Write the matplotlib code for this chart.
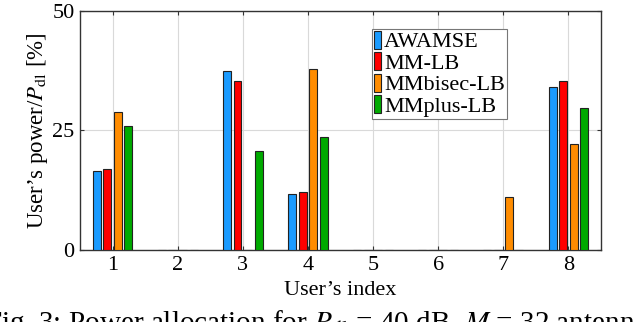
import numpy as np
import matplotlib
matplotlib.use('Agg')
import matplotlib.pyplot as plt

plt.rcParams['font.family'] = 'Liberation Serif'
plt.rcParams['mathtext.fontset'] = 'stix'

# user index and power share per method [%]
users = [1, 2, 3, 4, 5, 6, 7, 8]
awamse = [16.5, 0, 37.4, 11.8, 0, 0, 0, 34.1]
mm_lb = [17.0, 0, 35.2, 12.2, 0, 0, 0, 35.3]
mmbisec_lb = [28.9, 0, 0, 37.8, 0, 0, 11.0, 22.1]
mmplus_lb = [26.0, 0, 20.6, 23.5, 0, 0, 0, 29.7]

names = ['AWAMSE', 'MM-LB', 'MMbisec-LB', 'MMplus-LB']
colors = ['#1a9bff', '#ff0000', '#ff8c00', '#00aa00']
series = [awamse, mm_lb, mmbisec_lb, mmplus_lb]

fig = plt.figure(figsize=(6.36, 3.22), dpi=100)
ax = fig.add_axes([0.1258, 0.2236, 0.8192, 0.7434])

x = np.array(users)
offsets = [-0.244, -0.082, 0.08, 0.244]
for vals, name, col, off in zip(series, names, colors, offsets):
    ax.bar(x + off, vals, width=0.122, color=col, edgecolor='#222222',
           linewidth=0.8, label=name, zorder=3)

ax.set_xlim(0.5, 8.5)
ax.set_ylim(0, 50)
ax.set_xticks(users)
ax.set_yticks([0, 25, 50])
ax.grid(True, color='#d9d9d9', linewidth=0.8, zorder=0)
ax.set_axisbelow(True)
ax.tick_params(direction='in', top=True, right=True, length=3,
               labelsize=16, colors='#333333', labelcolor='black', pad=4)
for s in ax.spines.values():
    s.set_color('#333333')
    s.set_linewidth(1.0)

ax.set_xlabel("User’s index", fontsize=16)
ax.xaxis.set_label_coords(0.5, -0.13)
ax.set_ylabel("User’s power/$P_{\\mathrm{dl}}$ [%]", fontsize=16.5)
ax.yaxis.set_label_coords(-0.058, 0.5)

leg = ax.legend(loc='upper left', bbox_to_anchor=(0.56, 0.925), fontsize=16,
                handlelength=0.3, handleheight=0.85, handletextpad=0.15,
                labelspacing=0.0, borderpad=0.1, borderaxespad=0,
                fancybox=False, framealpha=1, edgecolor='#777777')
leg.get_frame().set_linewidth(0.8)

fig.text(-0.024, 0.042, "Fig. 3: Power allocation for $P_{\\mathrm{dl}}$ = 40 dB, $M$ = 32 antennas",
         fontsize=21, va='top', ha='left')

fig.savefig('out.png', dpi=100)
